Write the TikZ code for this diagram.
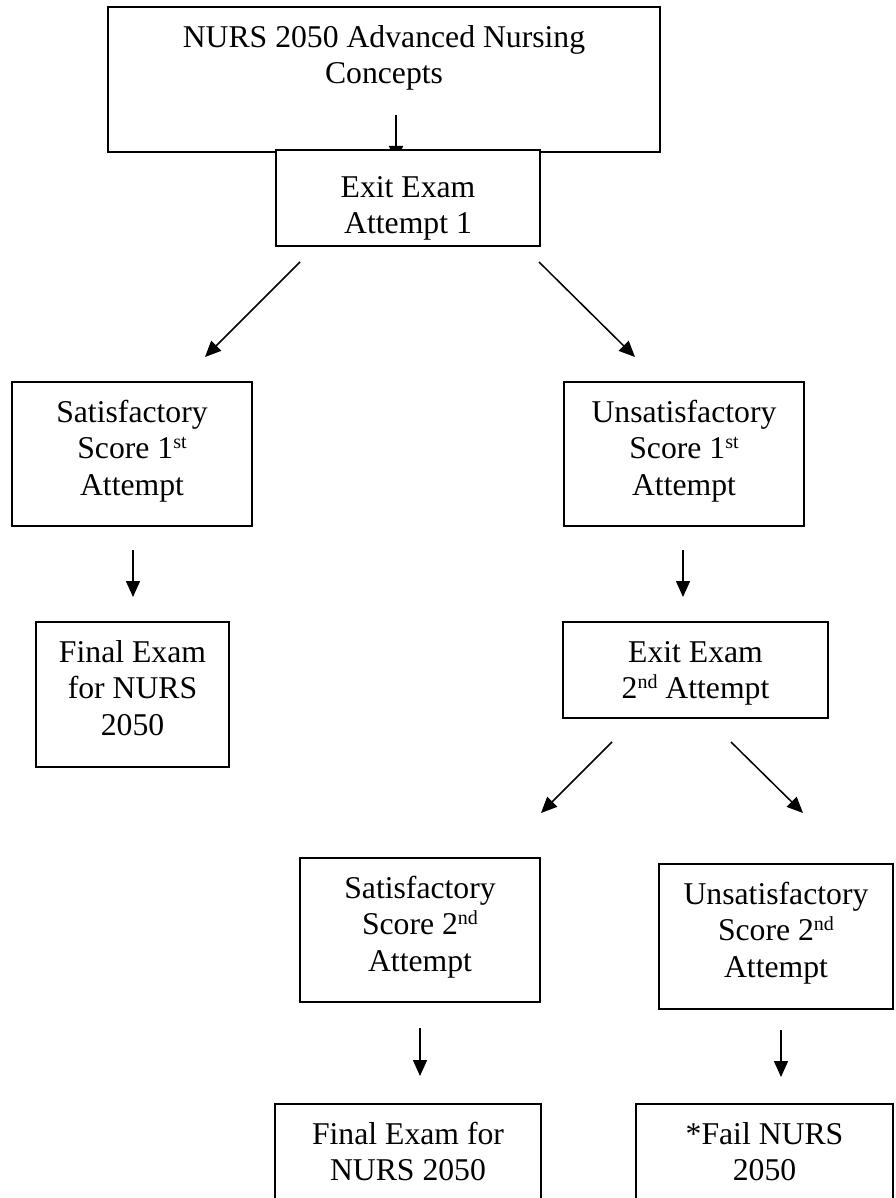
\documentclass[tikz,border=0pt]{standalone}
\usepackage{fontspec}
\setmainfont{Liberation Serif}
\usetikzlibrary{arrows.meta}
\newcommand\sps[1]{\raisebox{10.5pt}{\fontsize{20}{20}\selectfont #1}}
\begin{document}
\begin{tikzpicture}[x=1pt,y=-1pt,
  box/.style={draw, line width=2pt, fill=white, inner sep=0pt},
  txt/.style={anchor=north, align=center, inner sep=0pt, font=\fontsize{31.7}{36.5}\selectfont},
  arr/.style={line width=1.5pt, -{Triangle[length=16pt,width=14pt]}}]
\useasboundingbox[fill=white] (0,0) rectangle (895,1198);

% top box and its arrow (arrow tip mostly hidden under Exit Exam box)
\node[box, minimum width=552pt, minimum height=145pt] (top) at (384,79.5) {};
\node[txt] (toptx) at ([yshift=-15.45pt]top.north) {\strut NURS 2050 Advanced Nursing\\Concepts};
\coordinate (a0s) at (396,115);
\coordinate (a0e) at (396,162);
\draw[arr] (a0s) -- (a0e);

\node[box, minimum width=264pt, minimum height=96pt] (exit1) at (408,198) {};
\node[txt] (exit1tx) at ([yshift=-22.45pt]exit1.north) {\strut Exit Exam\\Attempt 1};

\node[box, minimum width=240pt, minimum height=144pt] (sat1) at (132,454) {};
\node[txt] (sat1tx) at ([yshift=-15.45pt]sat1.north) {\strut Satisfactory\\Score 1\sps{st}\\Attempt};

\node[box, minimum width=240pt, minimum height=144pt] (unsat1) at (684,454) {};
\node[txt] (unsat1tx) at ([yshift=-15.45pt]unsat1.north) {\strut Unsatisfactory\\Score 1\sps{st}\\Attempt};

\node[box, minimum width=193pt, minimum height=145pt] (final1) at (132.5,694.5) {};
\node[txt] (final1tx) at ([yshift=-15.45pt]final1.north) {\strut Final Exam\\for NURS\\2050};

\node[box, minimum width=265pt, minimum height=96pt] (exit2) at (695.5,670) {};
\node[txt] (exit2tx) at ([yshift=-15.45pt]exit2.north) {\strut Exit Exam\\2\sps{nd} Attempt};

\node[box, minimum width=240pt, minimum height=144pt] (sat2) at (420,930) {};
\node[txt] (sat2tx) at ([yshift=-15.45pt]sat2.north) {\strut Satisfactory\\Score 2\sps{nd}\\Attempt};

\node[box, minimum width=234pt, minimum height=145pt] (unsat2) at (776,936.5) {};
\node[txt] (unsat2tx) at ([yshift=-15.45pt]unsat2.north) {\strut Unsatisfactory\\Score 2\sps{nd}\\Attempt};

\node[box, minimum width=266pt, minimum height=126pt] (final2) at (408,1167) {};
\node[txt] (final2tx) at ([yshift=-15.45pt]final2.north) {\strut Final Exam for\\NURS 2050};

\node[box, minimum width=257pt, minimum height=126pt] (fail) at (764.5,1167) {};
\node[txt] (failtx) at ([yshift=-15.45pt]fail.north) {\strut *Fail NURS\\2050};

% free-floating arrows
\coordinate (d1s) at (300,262); \coordinate (d1e) at (205,357);
\coordinate (d2s) at (539,262); \coordinate (d2e) at (635,357);
\coordinate (v1s) at (133,550); \coordinate (v1e) at (133,597);
\coordinate (v2s) at (683,550); \coordinate (v2e) at (683,597);
\coordinate (d3s) at (612,742); \coordinate (d3e) at (541,813);
\coordinate (d4s) at (731,742); \coordinate (d4e) at (803,813);
\coordinate (v3s) at (420,1028); \coordinate (v3e) at (420,1076);
\coordinate (v4s) at (781,1030); \coordinate (v4e) at (781,1077);
\draw[arr] (d1s) -- (d1e);
\draw[arr] (d2s) -- (d2e);
\draw[arr] (v1s) -- (v1e);
\draw[arr] (v2s) -- (v2e);
\draw[arr] (d3s) -- (d3e);
\draw[arr] (d4s) -- (d4e);
\draw[arr] (v3s) -- (v3e);
\draw[arr] (v4s) -- (v4e);
\end{tikzpicture}
\end{document}
